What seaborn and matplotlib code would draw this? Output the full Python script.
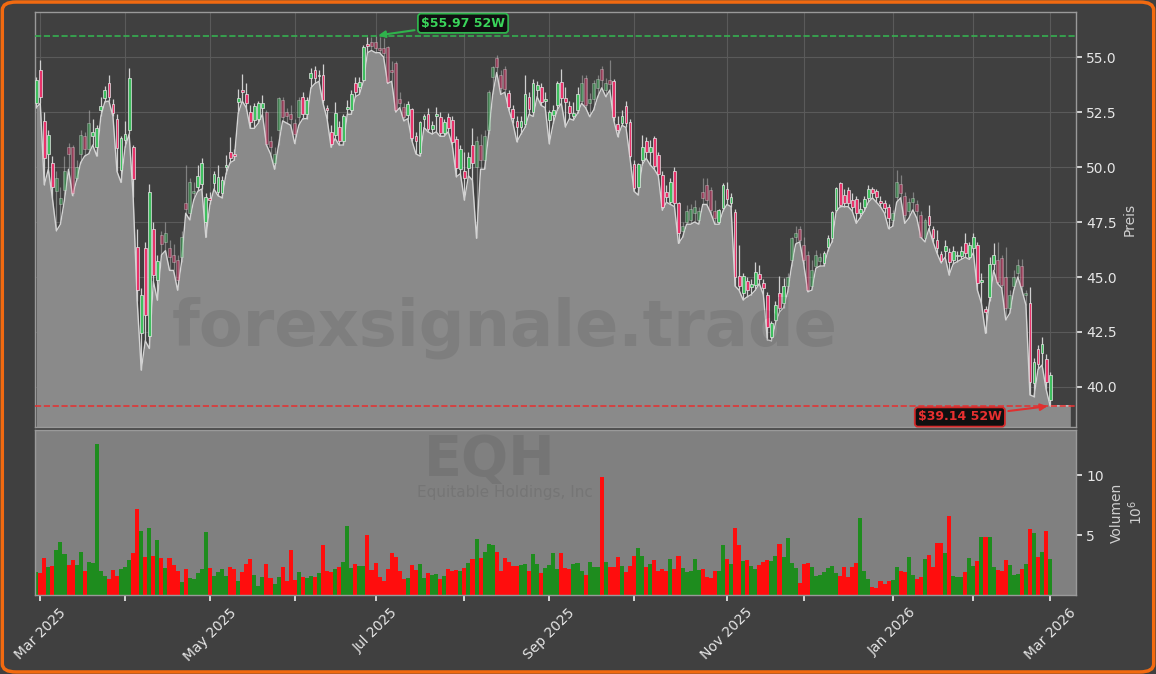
import numpy as np
import pandas as pd
import matplotlib
matplotlib.use("Agg")
import matplotlib.pyplot as plt
import seaborn as sns
from matplotlib.patches import FancyBboxPatch

# trading calendar (NYSE days)
start_date = "2025-02-28"
end_date = "2026-03-02"
holidays = ["2025-04-18", "2025-05-26", "2025-06-19", "2025-07-04", "2025-09-01",
            "2025-11-27", "2025-12-25", "2026-01-01", "2026-01-19", "2026-02-16"]

opens = [52.9, 54.4, 52.1, 50.6, 50.2, 48.9, 48.3, 48.95, 50.9, 50.9,
         49.5, 50.6, 51.4, 50.8, 51.4, 50.9, 52.6, 53.16, 53.8, 52.85,
         52.2, 49.86, 51.25, 51.7, 50.9, 46.35, 42.44, 46.3, 42.3, 47.2,
         44.86, 46.9, 46.6, 46.3, 46.0, 45.77, 45.9, 48.35, 47.9, 48.8,
         49.1, 49.25, 47.5, 48.6, 49.26, 48.88, 48.83, 49.98, 50.67, 50.6,
         52.97, 53.5, 53.32, 52.5, 52.13, 52.18, 52.67, 52.5, 51.2, 50.2,
         51.68, 53.07, 52.5, 52.4, 52.0, 52.29, 53.2, 52.4, 54.03, 54.41,
         54.15, 54.18, 52.7, 51.6, 51.45, 51.83, 51.2, 52.62, 52.6, 53.8,
         53.65, 53.98, 55.6, 55.7, 55.7, 55.4, 55.4, 55.47, 54.4, 54.71,
         53.1, 52.71, 52.36, 52.62, 51.4, 50.62, 52.2, 52.39, 51.71, 52.3,
         52.28, 51.53, 52.28, 52.13, 51.27, 49.9, 49.8, 49.94, 51.0, 50.0,
         51.0, 50.3, 51.68, 54.1, 54.94, 54.2, 54.48, 53.35, 52.64, 52.09,
         51.8, 51.98, 53.17, 52.5, 53.5, 53.62, 53.0, 52.13, 52.36, 52.82,
         53.88, 53.12, 52.77, 52.33, 52.6, 53.0, 54.03, 52.9, 53.1, 53.6,
         54.44, 53.5, 53.95, 53.9, 51.98, 52.0, 52.77, 52.07, 50.13, 49.1,
         50.32, 51.18, 50.7, 51.3, 50.57, 49.66, 48.85, 48.42, 49.82, 48.35,
         47.1, 47.5, 47.6, 47.9, 47.6, 48.88, 49.2, 48.95, 48.0, 47.5,
         48.12, 48.99, 48.35, 47.97, 45.05, 44.26, 44.83, 44.53, 44.64, 45.12,
         44.71, 44.18, 42.29, 43.05, 44.26, 43.8, 44.6, 45.77, 46.8, 47.2,
         46.46, 46.0, 44.6, 45.5, 45.74, 45.62, 46.38, 46.76, 48.05, 49.29,
         48.73, 48.96, 48.5, 48.53, 47.9, 48.2, 48.58, 48.99, 48.93, 48.47,
         48.38, 48.2, 47.6, 48.65, 49.23, 48.7, 48.0, 48.4, 48.3, 47.82,
         46.76, 47.77, 47.17, 46.7, 46.03, 46.2, 46.15, 45.77, 45.95, 45.96,
         46.53, 45.93, 46.3, 46.46, 44.79, 43.53, 44.11, 45.6, 45.77, 45.85,
         45.0, 43.6, 44.6, 45.17, 45.5, 44.2, 43.8, 40.17, 41.71, 41.53,
         41.26, 39.41]

highs = [54.1, 54.85, 52.5, 51.7, 50.5, 49.8, 49.1, 50.5, 51.1, 51.0,
         50.3, 51.7, 51.6, 52.6, 52.2, 51.9, 53.2, 53.7, 54.18, 53.1,
         52.4, 51.4, 52.1, 54.5, 51.0, 47.2, 44.5, 46.6, 49.25, 47.5,
         46.0, 47.1, 47.5, 46.7, 46.5, 46.0, 47.1, 50.1, 49.5, 49.3,
         50.1, 50.4, 48.8, 48.85, 49.8, 50.1, 49.6, 50.55, 51.35, 50.8,
         53.57, 54.23, 53.8, 52.8, 52.9, 53.0, 53.27, 52.6, 51.4, 50.9,
         53.2, 53.2, 52.7, 52.8, 52.2, 53.2, 53.4, 53.2, 54.5, 54.6,
         54.4, 54.68, 52.8, 51.9, 52.97, 52.1, 52.4, 53.07, 53.5, 54.1,
         54.1, 55.55, 55.9, 55.9, 55.97, 55.9, 55.85, 55.5, 54.8, 54.8,
         53.4, 52.9, 53.0, 52.7, 51.6, 52.1, 52.4, 52.7, 52.1, 52.74,
         52.5, 52.2, 52.47, 52.3, 51.4, 51.0, 50.7, 50.7, 51.76, 51.4,
         51.5, 51.7, 53.5, 54.6, 55.1, 54.4, 54.6, 53.5, 52.8, 52.3,
         52.3, 54.2, 53.4, 54.0, 53.9, 53.8, 53.4, 52.6, 52.8, 53.9,
         54.48, 53.65, 53.0, 52.97, 53.65, 54.2, 54.2, 53.35, 53.95, 54.2,
         54.6, 54.03, 54.89, 54.0, 52.3, 52.6, 53.0, 52.2, 50.3, 50.2,
         51.45, 51.38, 51.23, 51.4, 50.7, 49.8, 49.2, 49.5, 50.0, 48.4,
         47.5, 48.27, 48.3, 48.5, 48.2, 49.5, 49.5, 49.1, 48.5, 48.1,
         49.26, 49.34, 48.8, 48.1, 46.46, 45.2, 45.0, 44.9, 45.7, 45.55,
         44.9, 44.3, 43.0, 43.9, 45.05, 44.94, 45.2, 46.8, 47.3, 47.3,
         46.8, 46.2, 45.77, 46.23, 46.1, 46.2, 46.9, 48.0, 49.1, 49.3,
         49.0, 49.1, 48.8, 48.7, 48.4, 48.7, 49.19, 49.1, 49.0, 48.7,
         48.5, 48.3, 48.05, 49.87, 49.64, 48.88, 48.58, 48.88, 48.5, 48.0,
         47.7, 48.27, 47.3, 47.14, 46.2, 46.68, 46.3, 46.4, 46.2, 46.4,
         47.0, 46.6, 47.0, 46.6, 45.2, 43.7, 45.93, 46.53, 46.6, 46.0,
         46.35, 44.41, 45.32, 45.8, 45.8, 44.4, 44.53, 41.3, 41.9, 42.29,
         41.5, 40.7]

lows = [52.7, 52.9, 49.2, 49.9, 48.6, 47.1, 47.4, 48.5, 49.9, 48.7,
        49.4, 50.2, 50.5, 50.6, 51.0, 50.5, 52.3, 52.97, 53.0, 52.3,
        49.8, 49.3, 50.9, 51.5, 48.65, 43.9, 40.77, 42.1, 41.75, 44.8,
        43.95, 46.0, 46.2, 45.3, 45.3, 44.4, 45.7, 47.9, 47.6, 48.5,
        48.9, 49.0, 46.8, 48.3, 49.0, 48.7, 48.6, 49.7, 50.2, 50.3,
        52.44, 53.0, 52.7, 51.76, 51.76, 52.0, 52.4, 51.0, 50.6, 49.9,
        51.0, 52.1, 52.0, 51.9, 51.07, 51.9, 52.2, 52.2, 53.6, 53.8,
        53.9, 52.9, 52.2, 50.9, 51.3, 51.0, 51.0, 52.4, 52.4, 53.2,
        53.3, 53.9, 55.2, 55.3, 55.2, 55.2, 55.0, 53.8, 53.9, 52.5,
        52.7, 52.1, 52.2, 51.2, 50.6, 50.5, 51.8, 51.6, 51.5, 51.6,
        51.4, 51.4, 51.6, 51.0, 49.56, 49.7, 48.5, 49.6, 49.4, 46.76,
        49.9, 49.9, 51.5, 53.3, 54.3, 53.3, 53.4, 52.6, 52.0, 51.15,
        51.5, 51.8, 52.4, 52.3, 53.2, 52.8, 52.7, 51.07, 52.0, 52.6,
        52.9, 51.83, 52.2, 52.13, 52.44, 52.9, 52.7, 52.29, 52.6, 53.2,
        53.6, 53.2, 53.5, 52.1, 51.38, 51.9, 51.8, 50.4, 48.9, 48.73,
        50.1, 50.4, 50.1, 49.9, 49.6, 48.04, 48.4, 48.3, 48.2, 46.53,
        46.8, 47.4, 47.4, 47.5, 47.4, 48.3, 48.3, 47.9, 47.4, 47.4,
        48.0, 48.3, 48.2, 44.59, 44.4, 43.96, 44.1, 44.2, 44.4, 44.7,
        44.2, 42.14, 42.1, 42.9, 43.4, 43.6, 44.3, 45.5, 46.5, 46.6,
        45.6, 44.33, 44.4, 45.4, 45.5, 45.5, 46.2, 46.6, 47.97, 48.2,
        48.2, 48.2, 48.0, 47.44, 47.7, 48.0, 48.4, 48.6, 48.4, 48.2,
        47.9, 47.2, 47.3, 48.4, 48.6, 47.44, 47.67, 48.05, 47.67, 46.8,
        46.6, 47.2, 46.6, 46.08, 45.65, 45.9, 45.09, 45.6, 45.7, 45.8,
        45.9, 45.8, 46.1, 44.4, 43.8, 42.44, 43.9, 45.3, 44.7, 44.5,
        43.05, 43.35, 44.4, 45.0, 44.4, 43.73, 39.64, 39.56, 40.8, 41.0,
        39.9, 39.14]

closes = [53.95, 53.2, 50.4, 51.45, 49.1, 49.5, 48.6, 49.8, 50.6, 48.8,
          50.0, 51.45, 50.8, 52.0, 51.6, 51.76, 52.77, 53.5, 53.2, 52.47,
          50.85, 51.3, 51.5, 54.07, 49.44, 44.4, 44.18, 43.27, 48.85, 45.1,
          45.73, 46.5, 47.0, 45.9, 45.7, 44.86, 46.8, 48.1, 49.3, 48.9,
          49.6, 50.2, 48.65, 48.5, 49.68, 49.56, 49.4, 50.1, 50.4, 50.5,
          53.12, 53.42, 52.9, 52.06, 52.77, 52.9, 52.9, 51.07, 50.9, 50.6,
          53.12, 52.29, 52.3, 52.2, 51.5, 53.07, 52.4, 53.07, 54.26, 54.03,
          54.2, 53.05, 52.6, 51.07, 52.44, 51.2, 52.3, 52.74, 53.32, 53.42,
          53.88, 55.44, 55.5, 55.5, 55.4, 55.3, 55.17, 53.88, 54.3, 52.59,
          52.9, 52.26, 52.85, 51.3, 51.2, 52.06, 52.3, 51.71, 51.9, 52.4,
          51.53, 52.06, 51.76, 51.15, 49.94, 50.8, 49.5, 50.47, 50.2, 51.2,
          50.3, 51.4, 53.42, 54.56, 54.56, 53.6, 53.57, 52.71, 52.21, 51.8,
          52.1, 53.32, 52.62, 53.83, 53.73, 52.97, 53.1, 52.51, 52.59, 53.83,
          53.12, 52.94, 52.44, 52.44, 53.3, 53.8, 52.82, 53.1, 53.8, 54.0,
          53.95, 53.8, 53.77, 52.29, 51.68, 52.3, 52.01, 50.5, 49.03, 50.13,
          50.92, 50.7, 50.9, 50.04, 49.7, 48.2, 48.62, 49.33, 48.38, 47.0,
          47.3, 48.0, 48.1, 48.2, 48.0, 48.57, 48.5, 48.04, 47.7, 48.04,
          49.18, 48.53, 48.62, 44.99, 44.59, 45.05, 44.41, 44.68, 45.24, 44.9,
          44.49, 42.74, 42.9, 43.73, 43.58, 44.6, 45.0, 46.76, 47.0, 46.7,
          45.77, 44.41, 45.3, 46.0, 45.93, 46.08, 46.76, 47.97, 49.03, 48.27,
          48.35, 48.35, 48.2, 47.9, 48.08, 48.53, 48.99, 48.8, 48.62, 48.38,
          48.12, 47.67, 47.9, 49.34, 48.8, 47.8, 48.4, 48.6, 48.0, 46.83,
          47.59, 47.37, 46.76, 46.3, 45.74, 46.41, 45.7, 46.2, 46.0, 46.18,
          46.11, 46.46, 46.8, 44.71, 44.87, 43.43, 45.58, 46.0, 44.79, 44.64,
          43.6, 44.2, 45.0, 45.55, 44.6, 44.26, 40.24, 41.15, 41.05, 41.96,
          40.24, 40.55]

# volume in millions of shares
volumes = [1.9, 1.86, 3.1, 2.36, 2.4, 3.75, 4.4, 3.4, 2.5, 2.9,
           2.5, 3.6, 2.0, 2.75, 2.67, 12.6, 2.0, 1.6, 1.36, 2.08,
           1.6, 2.2, 2.33, 2.9, 3.5, 7.17, 5.33, 3.17, 5.58, 3.3,
           4.58, 3.08, 2.28, 3.08, 2.5, 2.0, 1.08, 2.17, 1.42, 1.36,
           1.83, 2.17, 5.25, 2.25, 1.58, 1.92, 2.17, 1.58, 2.33, 2.17,
           1.17, 1.92, 2.58, 3.0, 1.67, 0.75, 1.5, 2.58, 1.42, 0.92,
           1.5, 2.33, 1.17, 3.75, 1.25, 1.92, 1.5, 1.42, 1.58, 1.5,
           1.83, 4.17, 2.0, 1.92, 2.17, 2.33, 2.75, 5.75, 2.25, 2.58,
           2.42, 2.42, 5.0, 2.08, 2.67, 1.5, 1.17, 2.17, 3.5, 3.17,
           2.0, 1.33, 1.42, 2.5, 2.08, 2.58, 1.42, 1.83, 1.67, 1.75,
           1.33, 1.58, 2.17, 2.0, 2.08, 2.0, 2.25, 2.67, 3.0, 4.67,
           3.08, 3.58, 4.25, 4.17, 3.58, 2.0, 3.08, 2.75, 2.42, 2.42,
           2.5, 2.58, 2.0, 3.42, 2.58, 1.83, 2.25, 2.5, 3.5, 2.17,
           3.5, 2.25, 2.17, 2.58, 2.67, 2.0, 1.67, 2.75, 2.33, 2.33,
           9.83, 2.75, 2.33, 2.33, 3.17, 2.42, 1.92, 2.42, 3.25, 3.92,
           3.25, 2.33, 2.58, 2.92, 2.0, 2.17, 2.0, 3.0, 2.17, 3.25,
           2.25, 1.92, 2.0, 3.0, 2.08, 2.17, 1.5, 1.42, 2.0, 2.0,
           4.17, 3.0, 2.58, 5.58, 4.17, 2.83, 2.92, 2.42, 2.17, 2.5,
           2.75, 2.92, 2.83, 3.25, 4.25, 3.17, 4.75, 2.67, 2.25, 1.0,
           2.58, 2.67, 2.33, 1.58, 1.67, 1.92, 2.25, 2.42, 1.83, 1.58,
           2.33, 1.5, 2.33, 2.67, 6.42, 2.0, 1.33, 0.67, 0.58, 1.17,
           0.92, 1.17, 1.25, 2.33, 2.0, 1.92, 3.17, 1.67, 1.33, 1.5,
           3.0, 3.33, 2.33, 4.33, 4.33, 3.5, 6.58, 1.58, 1.5, 1.5,
           1.92, 3.08, 2.42, 2.83, 4.83, 4.83, 4.83, 2.33, 2.08, 2.0,
           2.92, 2.5, 1.67, 1.75, 2.17, 2.58, 5.5, 5.17, 3.17, 3.58,
           5.33, 3.0]

ticker = "EQH"
company = "Equitable Holdings, Inc"
watermark = "forexsignale.trade"

# ---- derived frame ----
dates = pd.bdate_range(start_date, end_date, freq="C", holidays=holidays)
df = pd.DataFrame({"date": dates, "open": opens, "high": highs, "low": lows,
                   "close": closes, "volume": volumes})
df["idx"] = np.arange(len(df))
df["up"] = df["close"] >= df["open"]
n = len(df)

BG = "#404040"
FILL = "#8a8a8a"
GRID = "#5a5a5a"
TXT = "#e6e6e6"
UP = "#3fbf5f"
DOWN = "#e8336b"

sns.set_theme(style="dark")
plt.rcParams["font.family"] = ["DejaVu Sans"]

W, H = 1156, 674
fig = plt.figure(figsize=(W / 100, H / 100), dpi=100, facecolor=BG)
ax = fig.add_axes([35 / W, 1 - 427 / H, 1041 / W, 415 / H])
axv = fig.add_axes([35 / W, 1 - 595 / H, 1041 / W, 165 / H], sharex=ax)

# ---- price panel ----
ax.set_facecolor(BG)
pad = 5
fill_x = np.arange(n + pad)
fill_low = np.append(df["low"].values, [df["low"].iloc[-1]] * pad)
ax.fill_between(fill_x, fill_low, 30, color=FILL, zorder=1, lw=0)
sns.lineplot(x=fill_x, y=fill_low, ax=ax, color="#d4d4d4", lw=1, zorder=2)

# candles: some stretches drawn pale as in the source chart
faint = ((df["idx"] - 5) % 25.8) < 8.6
for _, r in df.iterrows():
    c = UP if r["up"] else DOWN
    a = 0.45 if faint[r["idx"]] else 1.0
    ax.vlines(r["idx"], r["low"], r["high"], color="#d0d0d0", lw=0.9, alpha=a, zorder=3)
    ax.bar(r["idx"], r["close"] - r["open"], bottom=r["open"], width=0.7,
           color=c, edgecolor="#e8e8e8", linewidth=0.5, alpha=a, zorder=4)

hi_i = df["high"].idxmax()
lo_i = df["low"].idxmin()
hi_v = df["high"].max()
lo_v = df["low"].min()
ax.axhline(hi_v, color="#35b050", ls="--", lw=1.2, zorder=5)
ax.axhline(lo_v, color="#e03535", ls="--", lw=1.2, zorder=5)

ax.annotate(f"${hi_v:.2f} 52W", xy=(hi_i, hi_v), xytext=(63, 9), textcoords="offset points",
            ha="center", va="center", color="#3ad45a", fontsize=9, fontweight="bold",
            bbox=dict(boxstyle="round,pad=0.25", fc="#101010", ec="#2fb34c", lw=1.3),
            arrowprops=dict(arrowstyle="-|>", color="#2fb34c", lw=1.5, mutation_scale=10),
            zorder=6)
ax.annotate(f"${lo_v:.2f} 52W", xy=(lo_i, lo_v), xytext=(-65, -8), textcoords="offset points",
            ha="center", va="center", color="#e83030", fontsize=9, fontweight="bold",
            bbox=dict(boxstyle="round,pad=0.25", fc="#101010", ec="#d42a2a", lw=1.3),
            arrowprops=dict(arrowstyle="-|>", color="#e03030", lw=1.5, mutation_scale=10),
            zorder=6)

ax.set_ylim(38.18, 57.05)
ax.set_yticks([40, 42.5, 45, 47.5, 50, 52.5, 55])
ax.yaxis.tick_right()
ax.yaxis.set_label_position("right")
ax.set_ylabel("Preis", color="#cfcfcf", fontsize=10)
ax.grid(True, color=GRID, lw=0.8)
ax.set_axisbelow(True)

# ---- volume panel ----
axv.set_facecolor("#808080")
vcols = np.where(df["up"], "#1e8c1e", "#ff0d0d")
axv.bar(df["idx"], df["volume"], width=1.0, color=vcols, lw=0, zorder=2)
axv.set_ylim(0, 13.8)
axv.set_yticks([5, 10])
axv.yaxis.tick_right()
axv.yaxis.set_label_position("right")
axv.set_ylabel("Volumen\n$10^6$", color="#cfcfcf", fontsize=10)
axv.grid(False)

# month ticks at first trading day of each month, label every other month
month_start = df.groupby(df["date"].dt.to_period("M"))["idx"].min()
tick_pos = [i for i in month_start.values if i > 0]
tick_lab = [df["date"][i].strftime("%b %Y") if df["date"][i].month % 2 == 1 else ""
            for i in tick_pos]
axv.set_xticks(tick_pos)
axv.set_xticklabels(tick_lab, rotation=45, ha="center")
axv.set_xlim(-0.3, n - 1 + 6.4)
ax.tick_params(axis="x", length=0, labelbottom=False)

for a in (ax, axv):
    for s in a.spines.values():
        s.set_color("#9a9a9a")
        s.set_linewidth(1)
    a.tick_params(axis="y", colors=TXT, labelsize=10, length=4, direction="out", right=True)
axv.tick_params(axis="x", colors=TXT, labelsize=10, length=4, direction="out", bottom=True)

# watermark texts
fig.text(505 / W, 1 - 328 / H, watermark, fontsize=46, fontweight="bold",
         color="#2a2a2a", alpha=0.12, ha="center", va="center", zorder=0)
fig.text(490 / W, 1 - 460 / H, ticker, fontsize=40, fontweight="bold",
         color="#2a2a2a", alpha=0.12, ha="center", va="center")
fig.text(505 / W, 1 - 493 / H, company, fontsize=11,
         color="#2a2a2a", alpha=0.12, ha="center", va="center")

# orange frame
fig.patches.append(FancyBboxPatch((0.002, 0.003), 0.996, 0.994,
                                  boxstyle="round,pad=0,rounding_size=0.012",
                                  transform=fig.transFigure, fc="none",
                                  ec="#f26a10", lw=2.5, zorder=10))

fig.savefig("out.png", dpi=100, facecolor=BG)
